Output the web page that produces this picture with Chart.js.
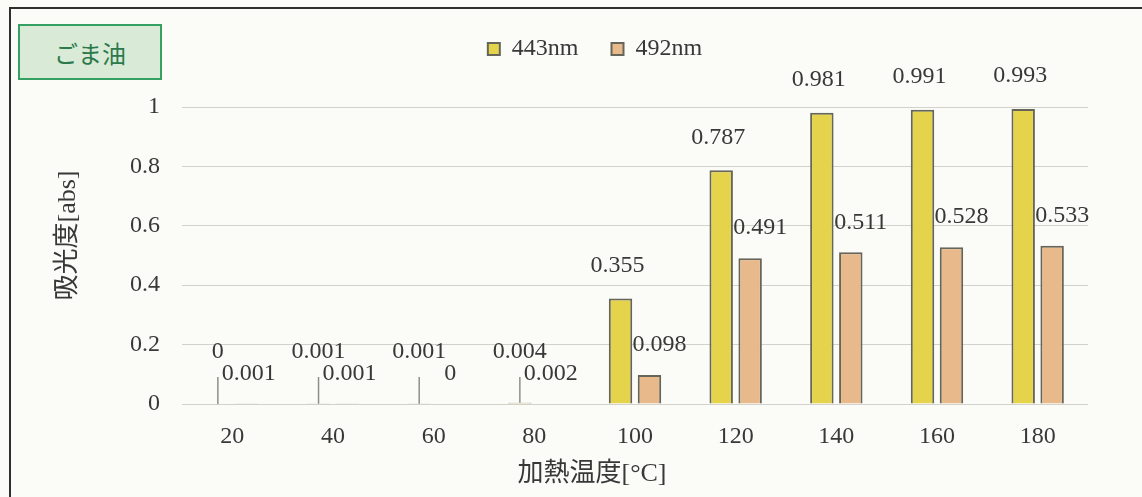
<!DOCTYPE html>
<html lang="ja">
<head>
<meta charset="utf-8">
<title>ごま油 加熱温度と吸光度</title>
<script src="https://cdn.jsdelivr.net/npm/chart.js@4.4.1/dist/chart.umd.min.js"></script>
<style>
  html, body { margin: 0; padding: 0; background: #fbfbf8; }
  #wrap { position: relative; width: 1142px; height: 497px; overflow: hidden; background: #fbfbf8; }
  #frame { position: absolute; left: 9px; top: 7px; right: -6px; bottom: -6px;
           border-top: 2px solid #2f2f2f; border-left: 2px solid #2f2f2f; }
  #tag { position: absolute; left: 18px; top: 24px; width: 140px; height: 52px;
         border: 2px solid #34a062; background: #d9ebd6; color: #2c7a4c;
         font: 24px 'Noto Sans CJK JP', sans-serif;
         display: flex; align-items: center; justify-content: center; }
  canvas { position: absolute; left: 0; top: 0; }
</style>
</head>
<body>
<div id="wrap">
  <div id="frame"></div>
  <div id="tag">ごま油</div>
  <canvas id="chart" width="1142" height="497"></canvas>
</div>
<script>
// 加熱温度 (°C)
const temps = ['20', '40', '60', '80', '100', '120', '140', '160', '180'];
// 吸光度 [abs]
const abs443 = [0, 0.001, 0.001, 0.004, 0.355, 0.787, 0.981, 0.991, 0.993];
const abs492 = [0.001, 0.001, 0, 0.002, 0.098, 0.491, 0.511, 0.528, 0.533];
const seriesNames = ['443nm', '492nm'];
const yTicks = [0, 0.2, 0.4, 0.6, 0.8, 1];

const SERIF = "'Liberation Serif', 'Noto Sans CJK JP', serif";
const INK = '#383838';
const PLOT_TOP = 107;      // top edge of the plot area
const PLOT_LEFT = 182;
const PLOT_BOTTOM = 404;
const PAD = { top: 4, left: 53, right: 54, bottom: 0 };
const LEGEND_CENTER = 595;
const X_TITLE_SHIFT = -43; // axis titles sit a little off the plot centre
const Y_TITLE_SHIFT = -20;

Chart.defaults.font.family = SERIF;
Chart.defaults.color = INK;

// legend band fills the space above the plot; legend is centred on LEGEND_CENTER
const legendBand = {
  id: 'legendBand',
  beforeLayout(chart) {
    const lg = chart.legend;
    if (lg && !lg.__band) {
      const fit = lg.fit.bind(lg);
      lg.fit = function () { fit(); this.height = PLOT_TOP - PAD.top; };
      lg.__band = true;
    }
  },
  afterLayout(chart) {
    const lg = chart.legend;
    if (lg) {
      const dx = LEGEND_CENTER - (lg.left + lg.right) / 2;
      lg.left += dx;
      lg.right += dx;
    }
    const shift = (scale, dx, dy) => {
      if (!scale || scale.__shifted) return;
      const draw = scale.drawTitle.bind(scale);
      scale.drawTitle = function () {
        const ctx = this.ctx;
        ctx.save();
        ctx.translate(dx, dy);
        draw();
        ctx.restore();
      };
      scale.__shifted = true;
    };
    shift(chart.scales.x, X_TITLE_SHIFT, 0);
    shift(chart.scales.y, 0, Y_TITLE_SHIFT);
  }
};

// value labels above each bar, with leader lines for near-zero bars
const valueLabels = {
  id: 'valueLabels',
  afterDatasetsDraw(chart) {
    const ctx = chart.ctx;
    const zeroY = chart.scales.y.getPixelForValue(0);
    ctx.save();
    ctx.font = '24px ' + SERIF;
    ctx.fillStyle = INK;
    ctx.textAlign = 'center';
    ctx.textBaseline = 'middle';
    chart.data.datasets.forEach((ds, di) => {
      const meta = chart.getDatasetMeta(di);
      meta.data.forEach((bar, i) => {
        const v = ds.data[i];
        const small = v < 0.05;
        let x, y;
        if (di === 0) {
          x = bar.x + (small ? 0 : -3);
          y = Math.min(bar.y - 33, zeroY - 52);
          if (small) {
            ctx.save();
            ctx.strokeStyle = '#8e8e8a';
            ctx.lineWidth = 1.5;
            ctx.beginPath();
            ctx.moveTo(bar.x, bar.y);
            ctx.lineTo(bar.x, zeroY - 27);
            ctx.stroke();
            ctx.restore();
          }
        } else {
          x = bar.x + (small ? 2 : 10);
          y = bar.y - 30;
        }
        ctx.fillText(String(v), x, y);
      });
    });
    ctx.restore();
  }
};

new Chart(document.getElementById('chart'), {
  type: 'bar',
  data: {
    labels: temps,
    datasets: [
      { label: seriesNames[0], data: abs443, backgroundColor: '#e5d34b',
        borderColor: '#65655a', borderWidth: 2 },
      { label: seriesNames[1], data: abs492, backgroundColor: '#e8b98a',
        borderColor: '#65655a', borderWidth: 2 }
    ]
  },
  options: {
    responsive: false,
    animation: false,
    devicePixelRatio: 1,
    layout: { padding: PAD },
    datasets: { bar: { categoryPercentage: 0.575, barPercentage: 0.81 } },
    plugins: {
      tooltip: { enabled: false },
      legend: {
        position: 'top',
        labels: {
          boxWidth: 12, boxHeight: 12, padding: 33,
          color: INK, font: { size: 24, family: SERIF }
        }
      }
    },
    scales: {
      x: {
        grid: { display: false, drawTicks: false },
        border: { display: false },
        ticks: { padding: 18, font: { size: 24 }, color: INK },
        title: { display: true, text: '加熱温度[°C]', font: { size: 26 }, color: INK,
                 padding: { top: 0, bottom: 7 } },
        afterFit(scale) { scale.height = 497 - PAD.bottom - PLOT_BOTTOM; }
      },
      y: {
        min: 0, max: 1,
        grid: { color: '#d2d2ca', lineWidth: 1, drawTicks: false },
        border: { display: false },
        afterBuildTicks(scale) { scale.ticks = yTicks.map(v => ({ value: v })); },
        ticks: { padding: 22, font: { size: 24 }, color: INK,
                 callback: v => String(v) },
        title: { display: true, text: '吸光度[abs]', font: { size: 26 }, color: INK,
                 padding: { top: 0, bottom: 0 } },
        afterFit(scale) { scale.width = PLOT_LEFT - PAD.left; }
      }
    }
  },
  plugins: [legendBand, valueLabels]
});
</script>
</body>
</html>
